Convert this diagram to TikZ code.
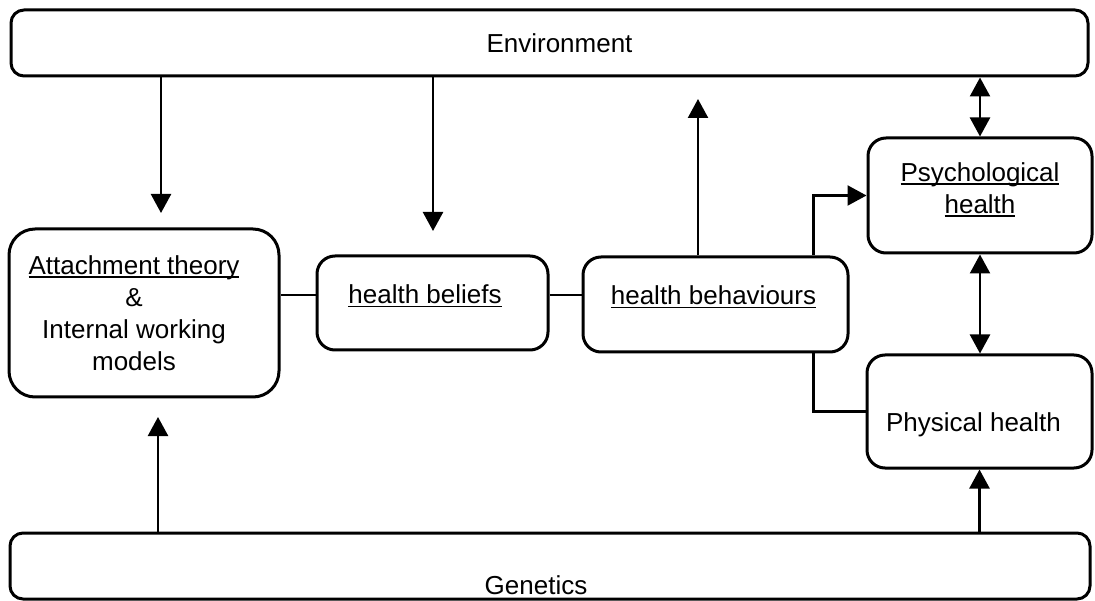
\documentclass[tikz,border=0pt]{standalone}
\usepackage{fontspec}
\setmainfont{Liberation Sans}
\usepackage{tikz}
\usetikzlibrary{arrows.meta}

\newcommand{\undl}[1]{\setbox0=\hbox{#1}\rlap{\rule[-3.5pt]{\wd0}{1.6pt}}\box0}

\begin{document}
\begin{tikzpicture}[x=1pt,y=-1pt]
    \tikzstyle{every node}+=[inner sep=0pt]
    \tikzstyle{box}=[draw, line width=3pt, rounded corners=18pt]
    \tikzstyle{txt}=[font=\fontsize{26}{32}\selectfont, align=center]
    \tikzstyle{arr}=[line width=2.4pt, -{Triangle[length=19pt,width=20pt]}]
    \tikzstyle{dbl}=[line width=2.4pt, {Triangle[length=19pt,width=20pt]}-{Triangle[length=19pt,width=20pt]}]
    \tikzstyle{link}=[line width=2.2pt]

    \useasboundingbox (0,0) rectangle (1095,601);

    % boxes
    \node [box, rounded corners=13pt, minimum width=1077pt, minimum height=66pt,
        label={[txt, xshift=10pt]center:Environment}] (env) at (549.5,43) {};
    \node [box, rounded corners=26pt, minimum width=270pt, minimum height=168pt,
        label={[txt, xshift=-10pt]center:{\undl{Attachment theory}\\\&\\Internal working\\models}}] (att) at (144,313) {};
    \node [box, minimum width=231pt, minimum height=94pt,
        label={[txt, xshift=-7.5pt, yshift=7pt]center:\undl{health beliefs}}] (bel) at (432.5,303) {};
    \node [box, minimum width=265pt, minimum height=95pt,
        label={[txt, xshift=-2pt, yshift=7.5pt]center:\undl{health behaviours}}] (beh) at (715.5,304.5) {};
    \node [box, minimum width=224pt, minimum height=115pt,
        label={[txt, yshift=6pt]center:{\undl{Psychological}\\\undl{health}}}] (psy) at (980,195.5) {};
    \node [box, minimum width=225pt, minimum height=113pt,
        label={[txt, xshift=-6pt, yshift=-13.5pt]center:Physical health}] (phy) at (979.5,411.5) {};
    \node [box, rounded corners=13pt, minimum width=1080pt, minimum height=66pt,
        label={[txt, xshift=-14pt, yshift=-19pt]center:Genetics}] (gen) at (550,566) {};

    % free arrow ends
    \coordinate (a1) at (161,213);
    \coordinate (b1) at (433,231);
    \coordinate (c1) at (698,99);
    \coordinate (a2) at (158,417);

    % connectors
    \draw [arr] (env.south -| a1) -- (a1);
    \draw [arr] (env.south -| b1) -- (b1);
    \draw [arr] (beh.north -| c1) -- (c1);
    \draw [dbl] (env.south -| psy.north) -- (psy.north);
    \draw [dbl] (psy.south) -- (psy.south |- phy.north);
    \draw [arr] (gen.north -| a2) -- (a2);
    \draw [arr] (gen.north -| phy.south) -- (phy.south);
    \draw [link] ([yshift=8pt]bel.west) -- ([yshift=8pt]bel.west -| att.east);
    \draw [link] ([yshift=8pt]bel.east) -- ([yshift=8pt]bel.east -| beh.west);
    \draw [arr, line width=2.2pt] ([xshift=-36pt]beh.north east) |- (psy.west);
    \draw [link] ([xshift=-36pt]beh.south east) |- (phy.west);
\end{tikzpicture}
\end{document}
